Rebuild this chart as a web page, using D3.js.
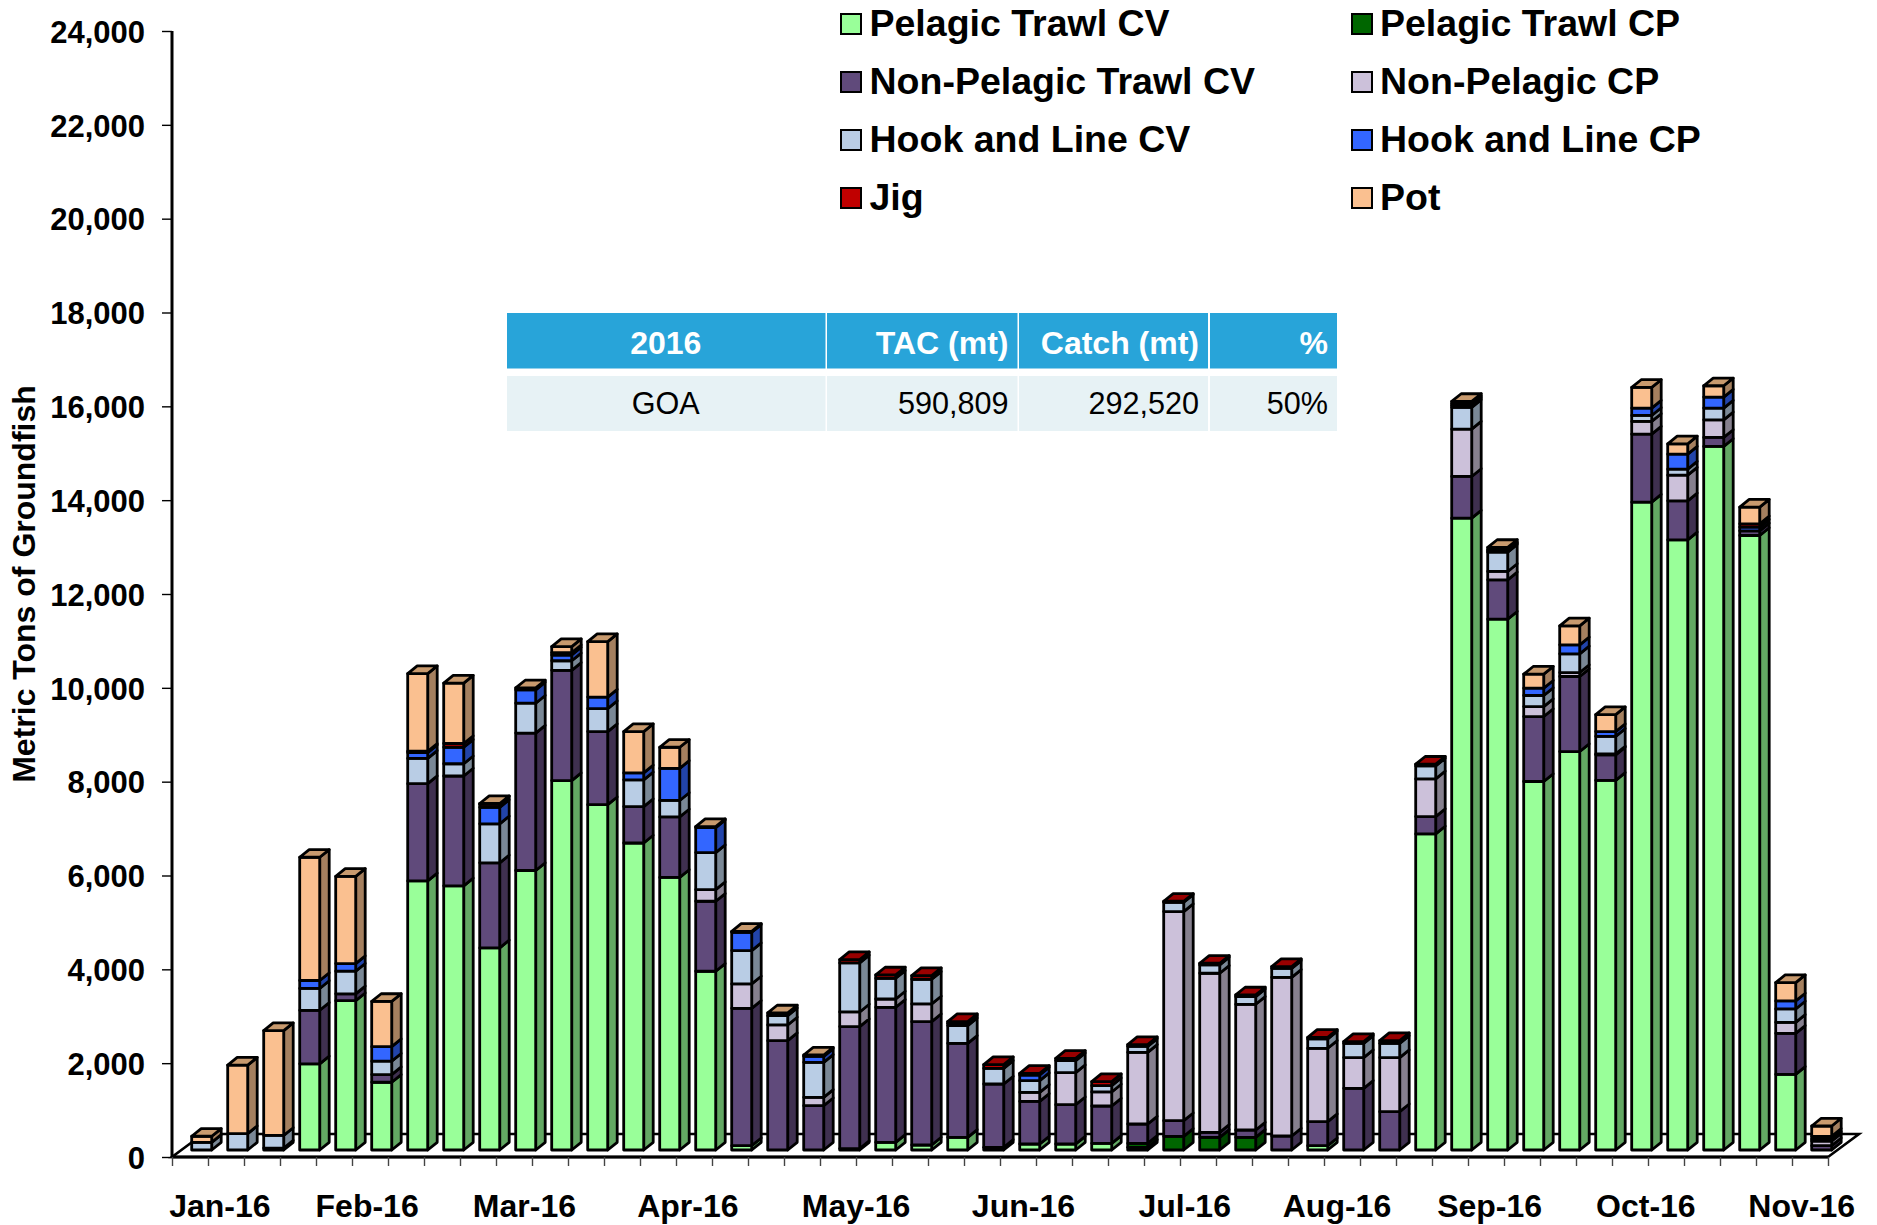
<!DOCTYPE html>
<html>
<head>
<meta charset="utf-8">
<script src="https://cdn.jsdelivr.net/npm/d3@7/dist/d3.min.js"></script>
<style>
html,body{margin:0;padding:0;background:#fff}
svg{display:block}
text{font-family:"Liberation Sans",Arial,sans-serif}
</style>
</head>
<body>
<svg id="chart" width="1877" height="1225"></svg>
<script>
// ---------- data (metric tons) ----------
const seriesNames = ["Pelagic Trawl CV","Pelagic Trawl CP","Non-Pelagic Trawl CV","Non-Pelagic CP","Hook and Line CV","Hook and Line CP","Jig","Pot"];
const pelagicTrawlCV = [0,0,0,1836,3182,1444,5736,5630,4308,5957,7874,7360,6544,5810,3810,92,0,0,30,163,107,270,0,128,128,142,57,0,0,0,0,92,0,0,6737,13468,11314,7854,8493,7880,13809,13006,14996,13098,1613,0];
const pelagicTrawlCP = [0,0,0,0,0,0,0,0,0,0,0,0,0,0,0,0,0,0,0,0,0,0,57,0,0,0,85,291,270,270,0,0,0,0,0,0,0,0,0,0,0,0,0,0,0,0];
const nonPelagicTrawlCV = [0,0,40,1142,147,163,2073,2342,1812,2929,2350,1559,776,1289,1492,2928,2331,945,2600,2879,2629,2004,1350,910,838,796,412,334,107,156,298,512,1315,817,370,888,839,1385,1599,542,1449,831,192,99,874,92];
const nonPelagicCP = [0,0,0,0,0,0,0,0,0,0,0,0,0,0,248,519,334,178,312,177,377,0,0,191,683,299,1528,4456,3390,2680,3383,1564,654,1152,803,1009,178,213,85,20,271,547,376,0,235,100];
const hookLineCV = [163,350,270,465,482,286,538,261,832,637,204,489,570,351,789,711,199,746,1045,441,526,377,334,249,256,135,128,199,177,163,192,199,305,305,277,462,412,235,398,376,127,128,249,0,284,40];
const hookLineCP = [0,0,0,170,163,310,122,351,351,285,123,245,148,685,533,391,0,128,0,0,0,49,0,121,0,0,0,0,0,0,0,0,0,0,0,40,25,156,192,100,157,320,235,80,171,60];
const jig = [0,0,0,0,0,0,30,80,65,0,49,0,0,0,0,0,0,0,71,71,78,36,78,36,49,85,36,22,36,36,36,35,36,57,36,40,25,0,0,0,0,0,0,70,0,0];
const pot = [130,1460,2236,2627,1860,963,1655,1289,17,41,130,1183,881,449,20,20,57,28,0,0,0,0,0,0,0,0,0,0,0,0,0,0,0,0,0,48,50,299,405,362,441,220,241,355,391,220];
const monthLabels = ["Jan-16","Feb-16","Mar-16","Apr-16","May-16","Jun-16","Jul-16","Aug-16","Sep-16","Oct-16","Nov-16"];
const monthWeeks = [1.33,5.42,9.79,14.33,19.0,23.65,28.13,32.36,36.6,40.94,45.27];
const yTicks = d3.range(0,24001,2000);
const tableHeader = ["2016","TAC (mt)","Catch (mt)","%"];
const tableRow = ["GOA","590,809","292,520","50%"];
const frontColors = ["#99FF99","#006600","#604A7B","#CCC1DA","#B9CDE5","#3366FF","#C00000","#FAC090"];
const sideColors  = ["#63A863","#004400","#3F3050","#86808E","#7A8896","#2244AA","#7E0000","#A5805F"];
const topColors   = ["#7ACC7A","#005200","#4D3B62","#A39AAE","#94A4B7","#2952CC","#990000","#C89A6E"];

// ---------- layout ----------
const svg = d3.select("#chart");
const xAxisY = 1157, axisX = 172, axisRight = 1828, yTop = 31;
const depthX = 31, depthY = 23;       // floor depth
const barOffset = 19.7, barW = 20;    // front face inside its week slot
const sideX = 9.5, sideY = 7.7, liftY = 7;

const x = d3.scaleLinear().domain([0,46]).range([axisX,axisRight]);
const y = d3.scaleLinear().domain([0,24000]).range([xAxisY,yTop]);

// table for the stack
const keys = seriesNames;
const columns = [pelagicTrawlCV,pelagicTrawlCP,nonPelagicTrawlCV,nonPelagicCP,hookLineCV,hookLineCP,jig,pot];
const rows = d3.range(46).map(i=>{
  const r={week:i};
  keys.forEach((k,j)=>r[k]=columns[j][i]);
  return r;
});
const stacked = d3.stack().keys(keys)(rows);

// floor
svg.append("polygon")
  .attr("points",[[axisX,xAxisY],[axisRight,xAxisY],[axisRight+depthX,xAxisY-depthY],[axisX+depthX,xAxisY-depthY]].map(p=>p.join(",")).join(" "))
  .attr("fill","#fff").attr("stroke","#000").attr("stroke-width",2.6).attr("stroke-linejoin","miter");

// axes
const yAxis = d3.axisLeft(y).tickValues(yTicks).tickFormat(d3.format(",")).tickSize(10).tickPadding(17);
const gy = svg.append("g").attr("transform",`translate(${axisX},0)`).call(yAxis);
gy.select(".domain").attr("stroke","#000").attr("stroke-width",3).attr("d",`M0,${yTop}V${xAxisY}`);
gy.selectAll(".tick line").attr("stroke","#000").attr("stroke-width",1.4);
gy.selectAll(".tick text").attr("fill","#000").attr("dy","0.36em").style("font-size","31px").style("font-weight","700").style("font-family",'"Liberation Sans",Arial,sans-serif');

const xAxis = d3.axisBottom(x).tickValues(d3.range(0,47)).tickFormat("").tickSize(9);
const gx = svg.append("g").attr("transform",`translate(0,${xAxisY})`).call(xAxis);
gx.select(".domain").attr("stroke","#000").attr("stroke-width",3).attr("d",`M${axisX},0H${axisRight}`);
gx.selectAll(".tick line").attr("stroke","#444").attr("stroke-width",1.4);

svg.append("g").selectAll("text").data(monthLabels).join("text")
  .attr("x",(d,i)=>x(monthWeeks[i])).attr("y",1216.5)
  .attr("text-anchor","middle").attr("font-size",32).attr("font-weight",700).attr("fill","#000")
  .text(d=>d);

svg.append("text")
  .attr("transform","translate(35,584) rotate(-90)")
  .attr("text-anchor","middle").attr("font-size",32).attr("font-weight",700).attr("fill","#000")
  .text("Metric Tons of Groundfish");

// bars
const barsG = svg.append("g").attr("stroke","#000").attr("stroke-width",2.8).attr("stroke-linejoin","round");
rows.forEach((r,i)=>{
  const left = x(i)+barOffset, right = left+barW;
  const g = barsG.append("g");
  let lastIdx = -1, lastTop = 0;
  stacked.forEach((s,j)=>{
    const [v0,v1] = s[i];
    if(v1<=v0) return;
    lastIdx=j; lastTop=v1;
    const yb = y(v0)-liftY, yt = y(v1)-liftY;
    g.append("polygon")
      .attr("points",[[right,yb],[right+sideX,yb-sideY],[right+sideX,yt-sideY],[right,yt]].map(p=>p.join(",")).join(" "))
      .attr("fill",sideColors[j]);
    g.append("rect").attr("x",left).attr("y",yt).attr("width",barW).attr("height",yb-yt).attr("fill",frontColors[j]);
  });
  if(lastIdx>=0){
    const yt = y(lastTop)-liftY;
    g.append("polygon")
      .attr("points",[[left,yt],[right,yt],[right+sideX,yt-sideY],[left+sideX,yt-sideY]].map(p=>p.join(",")).join(" "))
      .attr("fill",topColors[lastIdx]);
  }
});

// legend
const legX = [841,1352], legTextX = [869.5,1380], legSwY = [14,72,130,188];
const leg = svg.append("g").selectAll("g").data(seriesNames).join("g")
  .attr("transform",(d,i)=>`translate(${legX[i%2]},${legSwY[Math.floor(i/2)]})`);
leg.append("rect").attr("width",20).attr("height",20).attr("fill",(d,i)=>frontColors[i]).attr("stroke","#000").attr("stroke-width",2);
leg.append("text").attr("x",(d,i)=>legTextX[i%2]-legX[i%2]).attr("y",22).attr("font-size",37.5).attr("font-weight",700).attr("fill","#000").text(d=>d);

// table
const colEdges = [[507,825.5],[827,1017.5],[1019,1208],[1210,1337]];
const t = svg.append("g");
tableHeader.forEach((h,i)=>{
  const [a,b]=colEdges[i];
  t.append("rect").attr("x",a).attr("y",313).attr("width",b-a).attr("height",55.5).attr("fill","#28A4D9");
  t.append("rect").attr("x",a).attr("y",376).attr("width",b-a).attr("height",55).attr("fill","#E7F2F5");
  const center = i===0;
  t.append("text").attr("x",center?(a+b)/2-0.5:b-9).attr("y",354)
    .attr("text-anchor",center?"middle":"end").attr("font-size",32).attr("font-weight",700).attr("fill","#fff").text(h);
  t.append("text").attr("x",center?(a+b)/2-0.5:b-9).attr("y",414)
    .attr("text-anchor",center?"middle":"end").attr("font-size",30.6).attr("fill","#000").text(tableRow[i]);
});
</script>
</body>
</html>
